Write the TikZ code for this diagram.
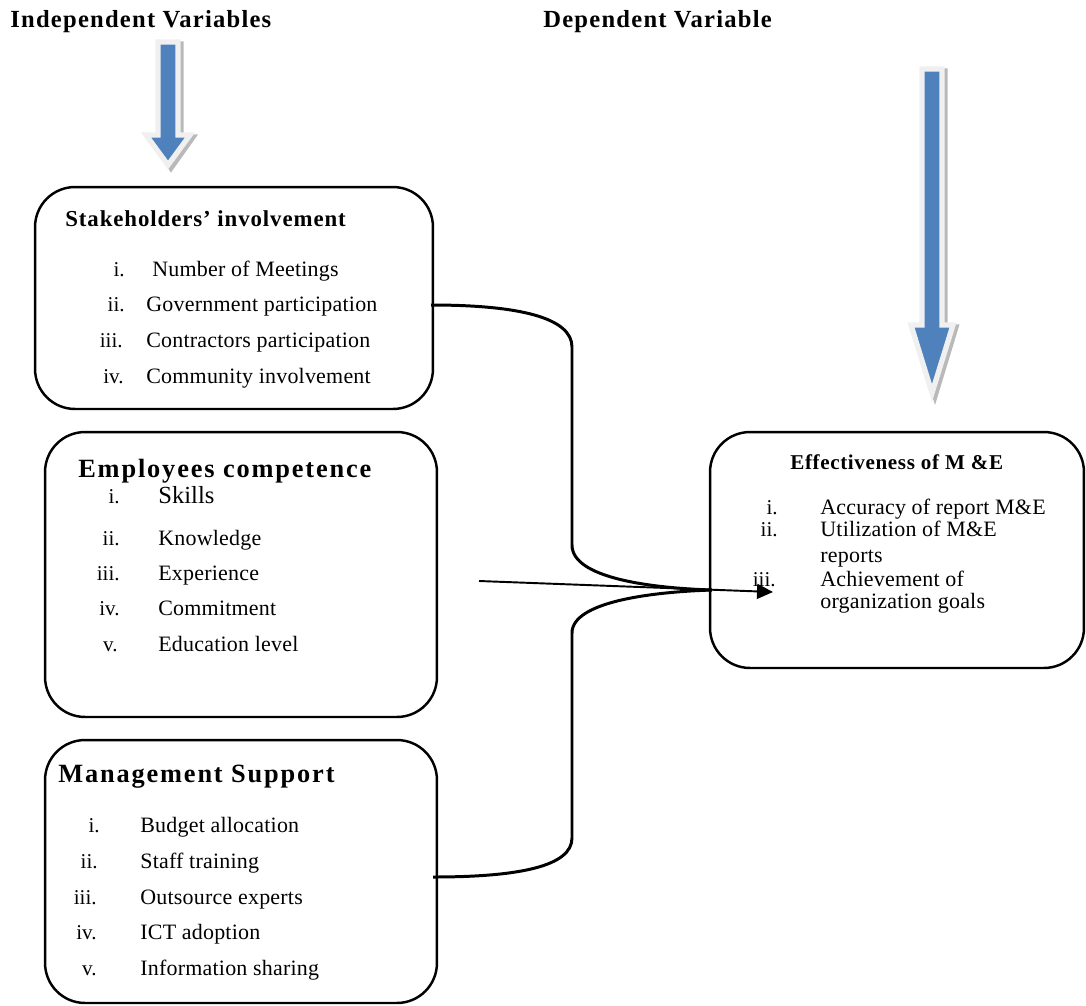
\documentclass[tikz,border=0pt]{standalone}
\usepackage{fontspec}
\setmainfont{Liberation Serif}
\usetikzlibrary{arrows.meta}
\definecolor{arrowblue}{HTML}{4F81BD}
\tikzstyle{box}=[draw=black,line width=1.4pt,rounded corners=0.8cm,inner sep=0pt]
\tikzstyle{toph}=[font=\bfseries\fontsize{14}{16}\selectfont\addfontfeature{LetterSpace=5},anchor=base west,inner sep=0pt]
\tikzstyle{head}=[font=\bfseries\fontsize{13}{15}\selectfont\addfontfeature{LetterSpace=4},anchor=base west,inner sep=0pt]
\tikzstyle{bighead}=[font=\bfseries\fontsize{15}{17}\selectfont\addfontfeature{LetterSpace=7},anchor=base west,inner sep=0pt]
\tikzstyle{num}=[font=\fontsize{12}{14}\selectfont,anchor=base east,inner sep=0pt]
\tikzstyle{item}=[font=\fontsize{12.5}{14}\selectfont\addfontfeature{LetterSpace=1},anchor=base west,inner sep=0pt]
\tikzstyle{brace}=[draw=black,line width=1.7pt]
\tikzstyle{blockarrow}=[fill=arrowblue,draw=gray!12,line width=3pt,line join=miter]
\tikzstyle{blockshadow}=[fill=gray!55,draw=gray!55,line width=3pt,line join=miter]

\begin{document}
\begin{tikzpicture}[x=0.02cm,y=-0.02cm]
			\useasboundingbox (0,0) rectangle (1086,1005);
			% headings
			\node (indep) at (10,27) [toph] {Independent Variables};
			\node (dep) at (543,27) [toph] {Dependent Variable};
			% block arrows
			\path[blockshadow] (161,44) -- (181,44) -- (181,137) -- (193,137) -- (171,168) -- (149,137) -- (161,137) -- cycle;
			\path[blockarrow] (158,42) -- (178,42) -- (178,135) -- (190,135) -- (168,165) -- (146,135) -- (158,135) -- cycle;
			\path[blockshadow] (925,71) -- (945,71) -- (945,327) -- (956,327) -- (935,396) -- (914,327) -- (925,327) -- cycle;
			\path[blockarrow] (922,69) -- (942,69) -- (942,325) -- (953,325) -- (932,393) -- (911,325) -- (922,325) -- cycle;
			% boxes
			\node (stake) at (234,298) [box,minimum width=7.96cm,minimum height=4.44cm] {};
			\node (comp) at (241,574.5) [box,minimum width=7.84cm,minimum height=5.7cm] {};
			\node (mgmt) at (241,871.5) [box,minimum width=7.84cm,minimum height=5.26cm] {};
			\node (eff) at (897,550) [box,minimum width=7.48cm,minimum height=4.72cm] {};
			% stakeholders
			\node (stakeT) at (65,226) [head] {Stakeholders’ involvement};
			\node (stakeN1) at (125,276) [num] {i.};
			\node (stakeI1) at (152,276) [item] {Number of Meetings};
			\node (stakeN2) at (125,311) [num] {ii.};
			\node (stakeI2) at (146,311) [item] {Government participation};
			\node (stakeN3) at (123,347) [num] {iii.};
			\node (stakeI3) at (146,347) [item] {Contractors participation};
			\node (stakeN4) at (124,383) [num] {iv.};
			\node (stakeI4) at (146,383) [item] {Community involvement};
			% competence
			\node (compT) at (78,477) [bighead] {Employees competence};
			\node (compN1) at (120,503) [num] {i.};
			\node (compI1) at (158,503) [item,font=\fontsize{14}{16}\selectfont] {Skills};
			\node (compN2) at (120,545) [num] {ii.};
			\node (compI2) at (158,545) [item] {Knowledge};
			\node (compN3) at (120,580) [num] {iii.};
			\node (compI3) at (158,580) [item] {Experience};
			\node (compN4) at (120,615) [num] {iv.};
			\node (compI4) at (158,615) [item] {Commitment};
			\node (compN5) at (118,651) [num] {v.};
			\node (compI5) at (158,651) [item] {Education level};
			% management
			\node (mgmtT) at (58,782) [bighead] {Management Support};
			\node (mgmtN1) at (100,832) [num] {i.};
			\node (mgmtI1) at (140,832) [item] {Budget allocation};
			\node (mgmtN2) at (98,868) [num] {ii.};
			\node (mgmtI2) at (140,868) [item] {Staff training};
			\node (mgmtN3) at (97,904) [num] {iii.};
			\node (mgmtI3) at (140,904) [item] {Outsource experts};
			\node (mgmtN4) at (97,939) [num] {iv.};
			\node (mgmtI4) at (140,939) [item] {ICT adoption};
			\node (mgmtN5) at (97,975) [num] {v.};
			\node (mgmtI5) at (140,975) [item] {Information sharing};
			% effectiveness
			\node (effT) at (790,469) [head,font=\bfseries\fontsize{12}{14}\selectfont\addfontfeature{LetterSpace=3}] {Effectiveness of M \&E};
			\node (effN1) at (778,514) [num] {i.};
			\node (effI1) at (820,514) [item] {Accuracy of report M\&E};
			\node (effN2) at (778,536) [num] {ii.};
			\node (effI2) at (820,536) [item] {Utilization of M\&E};
			\node (effI2b) at (820,562) [item] {reports};
			\node (effN3) at (776,586) [num] {iii.};
			\node (effI3) at (820,586) [item] {Achievement of};
			\node (effI3b) at (820,608) [item] {organization goals};
			% connectors
			\coordinate (braceTop) at (431,305);
			\coordinate (braceTip) at (712,590);
			\coordinate (braceBot) at (433,877);
			\coordinate (arrowStart) at (479,581);
			\coordinate (arrowEnd) at (773,592);
			\draw[brace] (braceTop) .. controls (520,305) and (572,318) .. (572,347) -- (572,545) .. controls (572,578) and (650,588) .. (braceTip);
			\draw[brace] (braceTip) .. controls (650,592) and (572,602) .. (572,633) -- (572,838) .. controls (572,866) and (520,877) .. (braceBot);
			\draw[line width=1.1pt,-{Triangle[length=0.32cm,width=0.3cm]}] (arrowStart) -- (arrowEnd);
		\end{tikzpicture}
\end{document}
